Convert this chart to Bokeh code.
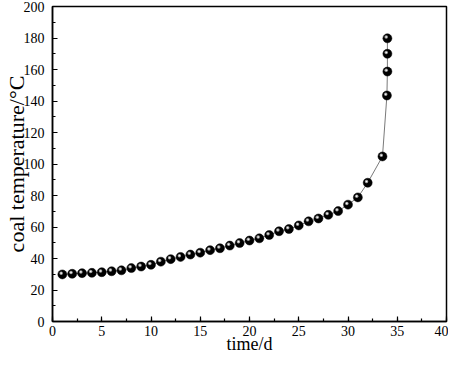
from bokeh.plotting import figure
from bokeh.models import SingleIntervalTicker, Range1d, ColumnDataSource
from bokeh.embed import file_html
from bokeh.resources import INLINE

# data
days = [1, 2, 3, 4, 5, 6, 7, 8, 9, 10, 11, 12, 13, 14, 15, 16, 17, 18, 19, 20,
        21, 22, 23, 24, 25, 26, 27, 28, 29, 30, 31, 32, 33.5, 33.95, 34.0, 34.0, 34.0]
temps = [29.9, 30.3, 30.7, 30.9, 31.3, 31.9, 32.5, 33.9, 34.9, 36.0, 38.0, 39.6,
         41.0, 42.5, 43.7, 45.3, 46.5, 48.2, 49.8, 51.4, 52.8, 54.9, 57.3, 58.7,
         61.0, 63.6, 65.4, 67.7, 70.1, 74.2, 78.8, 88.1, 104.8, 143.5, 158.7, 170.0, 179.8]

x_label = "time/d"
y_label = "coal temperature/\u00b0C"

src = ColumnDataSource(dict(
    x=days, y=temps,
    hx=[d - 0.12 for d in days], hy=[t + 0.8 for t in temps],
))

FONT = "Liberation Serif"

p = figure(width=448, height=356, output_backend="svg", toolbar_location=None,
           x_range=Range1d(0, 40), y_range=Range1d(0, 200),
           min_border_left=36, min_border_right=2, min_border_top=6, min_border_bottom=20)

p.grid.visible = False
p.outline_line_color = "black"
p.outline_line_width = 1.5
p.background_fill_color = "white"
p.border_fill_color = "white"

p.xaxis.ticker = SingleIntervalTicker(interval=5, num_minor_ticks=2)
p.yaxis.ticker = SingleIntervalTicker(interval=20, num_minor_ticks=2)

for ax in (p.xaxis[0], p.yaxis[0]):
    ax.axis_line_color = "black"
    ax.axis_line_width = 1.5
    ax.major_tick_in = 5
    ax.major_tick_out = 0
    ax.minor_tick_in = 3
    ax.minor_tick_out = 0
    ax.major_tick_line_color = "black"
    ax.minor_tick_line_color = "black"
    ax.major_tick_line_width = 1.2
    ax.minor_tick_line_width = 1.2
    ax.major_label_text_font = FONT
    ax.major_label_text_font_size = "14px"
    ax.major_label_text_color = "black"
    ax.axis_label_text_font = FONT
    ax.axis_label_text_font_style = "normal"
    ax.axis_label_text_color = "black"

p.xaxis.axis_label_text_font_size = "18px"
p.yaxis.axis_label_text_font_size = "22px"
p.xaxis.axis_label = x_label
p.yaxis.axis_label = y_label
p.xaxis.major_label_standoff = 4
p.xaxis.axis_label_standoff = -5
p.yaxis.major_label_standoff = 8
p.yaxis.axis_label_standoff = -8

p.line("x", "y", source=src, line_color="#7a7a7a", line_width=1)
p.scatter("x", "y", source=src, size=9, fill_color="black", line_color="black", line_width=0.5)
p.scatter("hx", "hy", source=src, size=3.5, fill_color="#9a9a9a", line_color=None)
p.scatter("hx", "hy", source=src, size=1.6, fill_color="white", line_color=None)

open("out.html", "w").write(file_html(p, INLINE))
